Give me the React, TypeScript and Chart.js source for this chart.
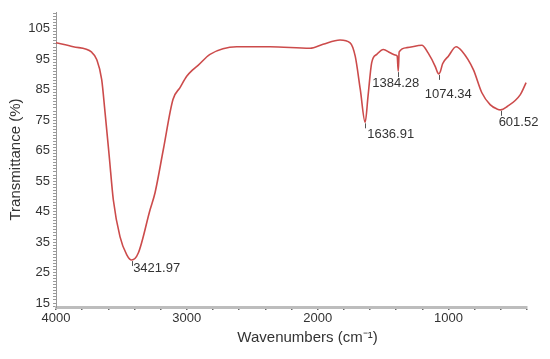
import React, { useEffect, useRef } from "react";
import { Chart, registerables } from "chart.js";

Chart.register(...registerables);

// Spectrum data (wavenumber in cm^-1, transmittance in %)
const wavenumbers = [
  4000, 3868, 3727, 3689, 3651, 3625, 3593, 3562, 3511, 3459, 3422, 3371, 3281, 3243, 3180,
  3106, 3052, 3001, 2953, 2914, 2823, 2619, 2364, 2058, 1959, 1829, 1752, 1713, 1674, 1637,
  1615, 1587, 1548, 1498, 1446, 1400, 1392, 1384, 1377, 1319, 1204, 1156, 1100, 1085, 1074,
  1062, 1045, 1001, 942, 898, 810, 745, 682, 630, 602, 554, 451, 407,
];
const transmittance = [
  100.4, 99.1, 97.3, 94.9, 88.4, 77.5, 63.1, 48.9, 36.8, 30.8, 29.1, 31.4, 45.6, 51.2, 65.3,
  81.8, 85.7, 89.4, 91.6, 93.0, 96.6, 99.1, 99.1, 98.6, 99.9, 101.3, 100.4, 96.0, 85.0, 74.3,
  82.9, 93.9, 96.6, 98.2, 97.1, 96.3, 96.0, 91.1, 97.4, 98.8, 99.6, 97.1, 92.5, 90.8, 90.2,
  91.0, 93.5, 96.0, 99.1, 97.7, 91.6, 84.0, 80.1, 78.7, 78.4, 79.4, 83.4, 87.3,
];

const peakWavenumbers = [3421.97, 1636.91, 1384.28, 1074.34, 601.52];
const peakTransmittance = [29.1, 74.3, 91.1, 90.2, 78.4];
const peakLabels = ["3421.97", "1636.91", "1384.28", "1074.34", "601.52"];

const xMajorTicks = [4000, 3000, 2000, 1000];
const yMajorTicks = [15, 25, 35, 45, 55, 65, 75, 85, 95, 105];

const FONT = "'Liberation Sans', Arial, sans-serif";
// label placement relative to the marked point: [dx to text left, dy to text middle]
const labelOffsets = [
  [1.5, 8],
  [2, 12.5],
  [-26, 12],
  [-14, 21],
  [-2, 13],
];

const peakLabelPlugin = {
  id: "peakLabels",
  afterDatasetsDraw(chart: any) {
    const { ctx } = chart;
    const xs = chart.scales.x;
    const ys = chart.scales.y;
    ctx.save();
    peakWavenumbers.forEach((w, i) => {
      const px = xs.getPixelForValue(w);
      const py = ys.getPixelForValue(peakTransmittance[i]);
      ctx.strokeStyle = "#555";
      ctx.lineWidth = 1;
      ctx.beginPath();
      ctx.moveTo(Math.round(px) + 0.5, py + 1);
      ctx.lineTo(Math.round(px) + 0.5, py + 6);
      ctx.stroke();
      ctx.fillStyle = "#333";
      ctx.font = `13px ${FONT}`;
      ctx.textAlign = "left";
      ctx.textBaseline = "middle";
      ctx.fillText(peakLabels[i], px + labelOffsets[i][0], py + labelOffsets[i][1]);
    });
    // x-axis title
    const area = chart.chartArea;
    ctx.fillStyle = "#333";
    ctx.font = `15px ${FONT}`;
    ctx.textAlign = "center";
    ctx.textBaseline = "middle";
    ctx.fillText("Wavenumbers (cm\u207B\u00B9)", (area.left + area.right) / 2 + 16, 338);
    ctx.restore();
  },
};

export default function App() {
  const canvasRef = useRef<HTMLCanvasElement | null>(null);

  useEffect(() => {
    document.body.style.margin = "0";
    const canvas = canvasRef.current;
    if (!canvas) return;
    const chart = new Chart(canvas, {
      type: "line",
      data: {
        datasets: [
          {
            data: wavenumbers.map((w, i) => ({ x: w, y: transmittance[i] })),
            borderColor: "#cc4b4b",
            borderWidth: 1.6,
            pointRadius: 0,
            fill: false,
            cubicInterpolationMode: "monotone",
          },
        ],
      },
      options: {
        animation: false,
        responsive: false,
        devicePixelRatio: 1,
        layout: { padding: { top: 12, right: 23, left: 0, bottom: 0 } },
        plugins: { legend: { display: false }, tooltip: { enabled: false } },
        scales: {
          x: {
            type: "linear",
            reverse: true,
            min: 400,
            max: 4000,
            afterFit: (s: any) => {
              s.height = 52;
            },
            afterBuildTicks: (s: any) => {
              const t = [];
              for (let v = 400; v <= 4000; v += 200) t.push({ value: v });
              s.ticks = t;
            },
            ticks: {
              autoSkip: false,
              maxRotation: 0,
              padding: 1,
              color: "#333",
              font: { size: 13, family: FONT },
              callback: (v: any) => (xMajorTicks.includes(Number(v)) ? String(v) : ""),
            },
            grid: { drawOnChartArea: false, tickLength: 3, color: "#666", lineWidth: 1.5 },
            border: { color: "#bdbdbd", width: 3 },
          },
          y: {
            type: "linear",
            min: 13.7,
            max: 110.5,
            afterFit: (s: any) => {
              s.width = 56;
            },
            afterBuildTicks: (s: any) => {
              const t = [];
              for (let v = 14; v <= 110; v += 1) t.push({ value: v });
              s.ticks = t;
            },
            ticks: {
              autoSkip: false,
              padding: 3,
              color: "#333",
              font: { size: 13, family: FONT },
              callback: (v: any) => (yMajorTicks.includes(Number(v)) ? String(v) : ""),
            },
            grid: { drawOnChartArea: false, tickLength: 3, color: "#999" },
            border: { color: "#999", width: 1 },
            title: {
              display: true,
              text: "Transmittance (%)",
              color: "#333",
              font: { size: 15, family: FONT },
              padding: { top: 7, bottom: 0 },
            },
          },
        },
      },
      plugins: [peakLabelPlugin],
    } as any);
    return () => chart.destroy();
  }, []);

  return (
    <div style={{ width: 550, height: 359, background: "#fff" }}>
      <canvas ref={canvasRef} width={550} height={359} style={{ display: "block", width: 550, height: 359 }} />
    </div>
  );
}
